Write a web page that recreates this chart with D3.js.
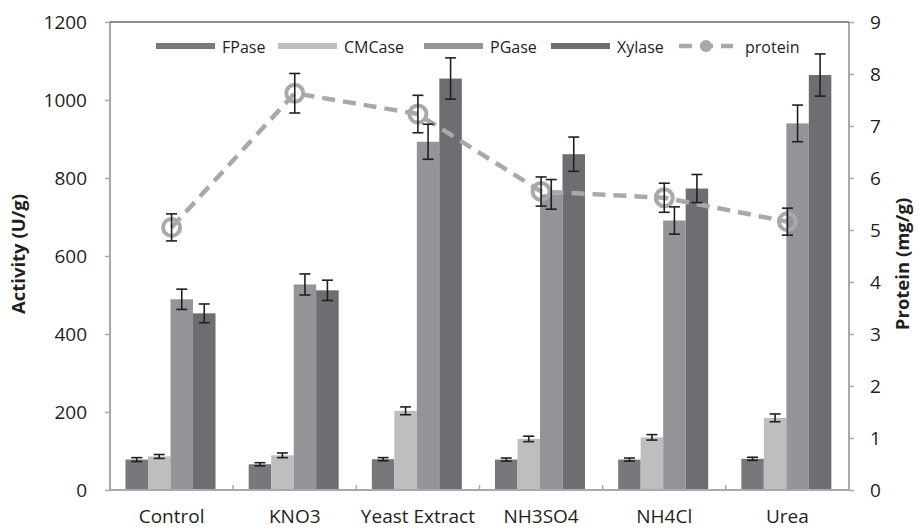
<!DOCTYPE html>
<html><head><meta charset="utf-8">
<script src="https://cdn.jsdelivr.net/npm/d3@7"></script>
<style>body{margin:0;background:#fff;} text{font-family:"Open Sans",sans-serif;}</style>
</head><body><svg id="c" width="919" height="530"></svg>
<script>
const categories = ["Control","KNO3","Yeast Extract","NH3SO4","NH4Cl","Urea"];
const seriesNames = ["FPase","CMCase","PGase","Xylase"];
const FPase = [78, 66, 79, 78, 78, 80];
const FPaseErr = [5, 4, 4, 4, 4, 4];
const CMCase = [86, 89, 203, 131, 135, 185];
const CMCaseErr = [5, 6, 10, 7, 7, 10];
const PGase = [489, 527, 893, 758, 691, 940];
const PGaseErr = [26, 27, 45, 38, 35, 47];
const Xylase = [453, 512, 1055, 861, 773, 1064];
const XylaseErr = [24, 26, 53, 44, 36, 54];
const protein = [5.05, 7.63, 7.23, 5.74, 5.62, 5.16];
const proteinErr = [0.26, 0.38, 0.36, 0.28, 0.28, 0.26];
const leftTicks = [0,200,400,600,800,1000,1200];
const rightTicks = [0,1,2,3,4,5,6,7,8,9];

const colors = {FPase:"#77787b", CMCase:"#bcbec0", PGase:"#939598", Xylase:"#6d6e71"};
const proteinColor = "#a7a9ac";
const values = {FPase, CMCase, PGase, Xylase};
const errs = {FPase:FPaseErr, CMCase:CMCaseErr, PGase:PGaseErr, Xylase:XylaseErr};
const FONT = "'Open Sans', sans-serif";

const svg = d3.select("#c");
const L = 110, R = 849, T = 22, B = 490;
const x0 = d3.scaleBand().domain(categories).range([L, R]);
const x1 = d3.scaleBand().domain(seriesNames).range([15.5, 105.5]);
const yL = d3.scaleLinear().domain([0,1200]).range([B, T]);
const yR = d3.scaleLinear().domain([0,9]).range([B, T]);

// bars
seriesNames.forEach(s => {
  svg.append("g").selectAll("rect").data(categories).join("rect")
    .attr("x", (c) => x0(c) + x1(s))
    .attr("width", x1.bandwidth())
    .attr("y", (c,i) => yL(values[s][i]))
    .attr("height", (c,i) => B - yL(values[s][i]))
    .attr("fill", colors[s]);
});

// axes
const gl = svg.append("g").attr("transform", `translate(${L},0)`)
  .call(d3.axisLeft(yL).tickValues(leftTicks).tickSize(5).tickPadding(18).tickFormat(d3.format("d")));
const gr = svg.append("g").attr("transform", `translate(${R},0)`)
  .call(d3.axisRight(yR).tickValues(rightTicks).tickSize(5).tickPadding(16).tickFormat(d3.format("d")));
const gb = svg.append("g").attr("transform", `translate(0,${B})`)
  .call(d3.axisBottom(x0).tickSize(0).tickPadding(20));
[gl, gr, gb].forEach(g => {
  g.select(".domain").attr("stroke", "#a7a9ac").attr("stroke-width", 2);
  g.selectAll(".tick line").attr("stroke", "#a7a9ac").attr("stroke-width", 1.5);
  g.selectAll(".tick text").attr("fill", "#231f20").attr("font-size", 19).attr("font-family", FONT);
});
gb.selectAll(".tick text").attr("font-size", 19);
gl.select(".domain").attr("d", `M0,${T}V${B}`);
gr.select(".domain").attr("d", `M0,${T}V${B}`);
gb.select(".domain").attr("d", `M${L},0H${R}`);
// category separator ticks pointing up
svg.append("g").selectAll("line").data(categories.slice(1)).join("line")
  .attr("x1", c => x0(c)).attr("x2", c => x0(c)).attr("y1", B - 5).attr("y2", B)
  .attr("stroke", "#a7a9ac").attr("stroke-width", 1.5);
// top border
svg.append("line").attr("x1", L).attr("x2", R).attr("y1", T).attr("y2", T).attr("stroke", "#231f20").attr("stroke-width", 1.2);

// protein line
const cx = c => x0(c) + x0.bandwidth()/2;
svg.append("path").datum(categories)
  .attr("d", d3.line().x(c => cx(c)).y((c,i) => yR(protein[i])))
  .attr("fill", "none").attr("stroke", proteinColor).attr("stroke-width", 4.5)
  .attr("stroke-dasharray", "13,8");
svg.append("g").selectAll("circle").data(categories).join("circle")
  .attr("cx", c => cx(c)).attr("cy", (c,i) => yR(protein[i])).attr("r", 8.5)
  .attr("fill", "none").attr("stroke", proteinColor).attr("stroke-width", 4);

// error bars
function errBar(g, x, y1, y2) {
  g.append("line").attr("x1", x).attr("x2", x).attr("y1", y1).attr("y2", y2);
  g.append("line").attr("x1", x-5.5).attr("x2", x+5.5).attr("y1", y1).attr("y2", y1);
  g.append("line").attr("x1", x-5.5).attr("x2", x+5.5).attr("y1", y2).attr("y2", y2);
}
const ge = svg.append("g").attr("stroke", "#231f20").attr("stroke-width", 1.6);
seriesNames.forEach(s => {
  categories.forEach((c,i) => {
    const x = x0(c) + x1(s) + x1.bandwidth()/2;
    errBar(ge, x, yL(values[s][i] + errs[s][i]), yL(values[s][i] - errs[s][i]));
  });
});
categories.forEach((c,i) => {
  errBar(ge, cx(c), yR(protein[i] + proteinErr[i]), yR(protein[i] - proteinErr[i]));
});

// axis titles
svg.append("text").attr("transform", "translate(25,254) rotate(-90)").attr("text-anchor","middle")
  .attr("font-size", 18.5).attr("font-weight", "bold").attr("fill", "#231f20").text("Activity (U/g)");
svg.append("text").attr("transform", "translate(909,264) rotate(-90)").attr("text-anchor","middle")
  .attr("font-size", 18.5).attr("font-weight", "bold").attr("fill", "#231f20").text("Protein (mg/g)");

// legend
const legY = 46;
const legX = [156, 278, 424, 551];
const lg = svg.append("g");
seriesNames.forEach((s,i) => {
  lg.append("rect").attr("x", legX[i]).attr("y", legY-3).attr("width", 59).attr("height", 6).attr("fill", colors[s]);
  lg.append("text").attr("x", legX[i] + 66).attr("y", legY + 7).attr("font-size", 16).attr("fill", "#231f20").text(s);
});
lg.append("line").attr("x1", 677).attr("x2", 733).attr("y1", legY).attr("y2", legY)
  .attr("stroke", proteinColor).attr("stroke-width", 4.5).attr("stroke-dasharray", "13,8").attr("stroke-dashoffset", -2);
lg.append("circle").attr("cx", 706).attr("cy", legY).attr("r", 6).attr("fill", proteinColor);
lg.append("text").attr("x", 745).attr("y", legY + 7).attr("font-size", 16).attr("fill", "#231f20").text("protein");
</script></body></html>
